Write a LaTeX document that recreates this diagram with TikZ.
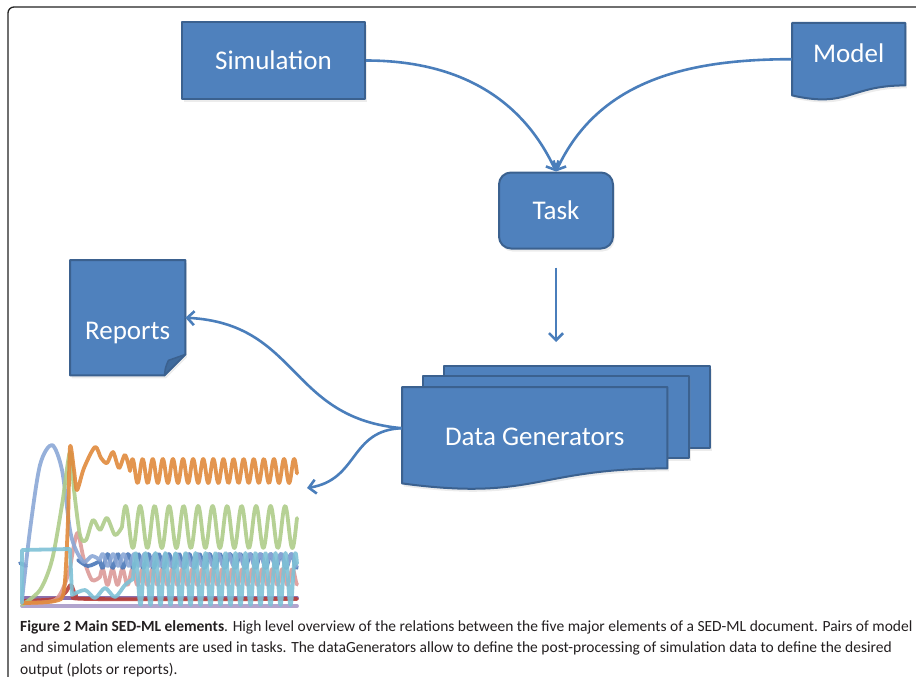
\documentclass[tikz,border=0pt]{standalone}
\usepackage{fontspec}
\setmainfont{Carlito}
\newfontfamily\capfont{Carlito}
\usetikzlibrary{positioning, arrows.meta, backgrounds, shadows}

\definecolor{boxblue}{HTML}{4F81BD}
\definecolor{boxedge}{HTML}{3B618F}
\definecolor{folddark}{HTML}{3F6A9C}
\definecolor{arrowblue}{HTML}{4A7EBB}
\definecolor{framegray}{HTML}{222222}
\definecolor{captionblack}{HTML}{231F20}
\definecolor{plotorange}{HTML}{E08A3C}
\definecolor{plotgreen}{HTML}{AECC8A}
\definecolor{plotlblue}{HTML}{8BA7D6}
\definecolor{plotdblue}{HTML}{4A78B8}
\definecolor{plotpink}{HTML}{DC9A98}
\definecolor{plotred}{HTML}{B8403A}
\definecolor{plotpurple}{HTML}{7E62A6}
\definecolor{plotcyan}{HTML}{7EC1D6}
\definecolor{plotlav}{HTML}{A99AC8}

\newcommand{\diagfont}{\fontsize{27}{32}\selectfont}
\newcommand{\docshape}[3]{%
  \path[boxfill] (#1.north west) -- (#1.north east) -- ([yshift=#2]#1.south east)
    .. controls ([yshift=#2]#1.south) and ([yshift=#3]#1.south) .. (#1.south west) -- cycle;}

\tikzset{
  boxfill/.style={fill=boxblue, draw=boxedge, line width=2pt, line join=round,
    drop shadow={opacity=0.15, shadow xshift=1.5pt, shadow yshift=-3pt}},
  procbox/.style={boxfill, text=white, font=\diagfont, inner sep=0pt},
  shapebox/.style={anchor=north west, inner sep=0pt, draw=none, fill=none},
  foldfill/.style={fill=folddark, draw=boxedge, line width=1.5pt, line join=round},
  flow/.style={draw=arrowblue, line width=2.6pt, -{Straight Barb[length=7pt, width=14pt]}},
  frameline/.style={draw=framegray, line width=1.3pt, rounded corners=6pt},
  plotline/.style={line width=3.8pt, line cap=round, line join=round, opacity=0.9},
  captext/.style={font=\capfont\fontsize{15.5}{21.5}\selectfont, text=captionblack, align=left},
  every label/.append style={text=white, font=\diagfont},
}

\begin{document}
\begin{tikzpicture}[x=1pt, y=-1pt]
  \useasboundingbox (0,0) rectangle (916,677);
  \draw[frameline] (8,677) -- (8,7) -- (916,7);
  % inputs and task
  \node (sim) [procbox, minimum width=183pt, minimum height=76pt] at (273.5,60.5) {Simulation};
  \node (model) [shapebox, minimum width=113pt, minimum height=72pt, label={[yshift=6pt]center:Model}] at (792,23) {};
  \node (task) [procbox, rounded corners=12pt, minimum width=114pt, minimum height=76pt] at (556,210.5) {Task};
  % outputs
  \node (reports) [shapebox, minimum width=115pt, minimum height=115pt, label={[yshift=-15pt]center:Reports}] at (70,260) {};
  \node (dgback) [shapebox, minimum width=266pt, minimum height=82pt] at (444,366) {};
  \node (dgmid) [shapebox, minimum width=266pt, minimum height=82pt] at (423,376) {};
  \node (dgfront) [shapebox, minimum width=265pt, minimum height=96pt, label={[yshift=-2pt]center:Data Generators}] at (402,387) {};
  % shapes behind the labels
  \begin{scope}[on background layer]
    \docshape{model}{10pt}{-13pt}
    \path[boxfill] (dgback.north west) rectangle (dgback.south east);
    \path[boxfill] (dgmid.north west) rectangle (dgmid.south east);
    \docshape{dgfront}{15pt}{-18pt}
    \path[boxfill] (reports.north west) -- (reports.north east) -- ([yshift=21pt]reports.south east)
      -- ([xshift=-21pt]reports.south east) -- (reports.south west) -- cycle;
    \path[foldfill] ([xshift=-21pt]reports.south east) .. controls ([xshift=-20pt,yshift=8pt]reports.south east)
      .. ([xshift=-17pt,yshift=15pt]reports.south east) .. controls ([xshift=-9pt,yshift=18pt]reports.south east)
      .. ([yshift=21pt]reports.south east) -- cycle;
  \end{scope}
  % simulation results
  \draw[plotline, plotlav] (22,606) -- (297,606);
  \draw[plotline, plotpurple] (22,598) -- (297,598);
  \draw[plotline, plotred] plot[smooth] coordinates {(22,601) (55,599) (65,593) (71,585) (76,595) (90,599) (297,599)};
  \draw[plotline, plotpink] plot[smooth] coordinates {(22,603) (55,600) (68,575) (74,545) (78,533) (84,560) (92,580) (100,577)}
    -- plot[domain=100:297, samples=300] (\x,{577-8*sin(36*(\x-100))});
  \draw[plotline, plotdblue] (20,563) -- (26,566);
  \draw[plotline, plotdblue] plot[smooth] coordinates {(78,560) (88,566) (100,561)}
    -- plot[domain=100:297, samples=300] (\x,{561+7*sin(35.29*(\x-100))});
  \draw[plotline, plotlblue] plot[smooth] coordinates {(22,600) (30,530) (40,465) (52,445) (62,470) (70,530) (76,550) (84,562) (92,556) (100,560)}
    -- plot[domain=100:297, samples=300] (\x,{560-6*sin(34.29*(\x-100))});
  \draw[plotline, plotgreen] plot[smooth] coordinates {(22,605) (40,590) (52,560) (62,505) (70,452) (74,490) (80,535) (86,540) (93,520) (100,530) (107,518) (115,535) (122,527)}
    -- plot[domain=122:297, samples=300] (\x,{527-21*sin(24.83*(\x-122))});
  \draw[plotline, plotorange] plot[smooth] coordinates {(22,603) (55,601) (64,590) (68,520) (70,447) (74,470) (77,490) (84,468) (95,447) (101,458) (107,463) (113,452) (119,468) (125,455) (130,471)}
    -- plot[domain=130:297, samples=300] (\x,{471-12*sin(35.64*(\x-130))});
  \draw[plotline, plotcyan] (22,603) -- (22,550) -- (70,549) -- (72,595)
    -- plot[smooth] coordinates {(72,595) (85,590) (95,598) (105,588) (115,597) (125,585) (133,579)}
    -- plot[domain=133:297, samples=300] (\x,{579-26*sin(36*(\x-133))});
  % connectors
  \coordinate (plotin) at (307,488);
  \draw[flow] (sim.east) to[out=0, in=115] (task.north);
  \draw[flow] (model.west) to[out=180, in=65] (task.north);
  \draw[flow, shorten <=18pt, shorten >=24pt] (task.south) -- (task.south |- dgback.north);
  \draw[flow] ([yshift=7pt]dgfront.west) to[out=175, in=-3, looseness=1.2] (reports.east);
  \draw[flow] ([yshift=7pt]dgfront.west) to[out=182, in=9, looseness=1.2] (plotin);
  % caption
  \node (caption) [captext, anchor=north west, inner sep=0pt] at (20,620) {\textbf{Figure 2 Main SED-ML elements}. High level overview of the relations between the five major elements of a SED-ML document. Pairs of model\\and simulation elements are used in tasks. The dataGenerators allow to define the post-processing of simulation data to define the desired\\output (plots or reports).};
\end{tikzpicture}
\end{document}
